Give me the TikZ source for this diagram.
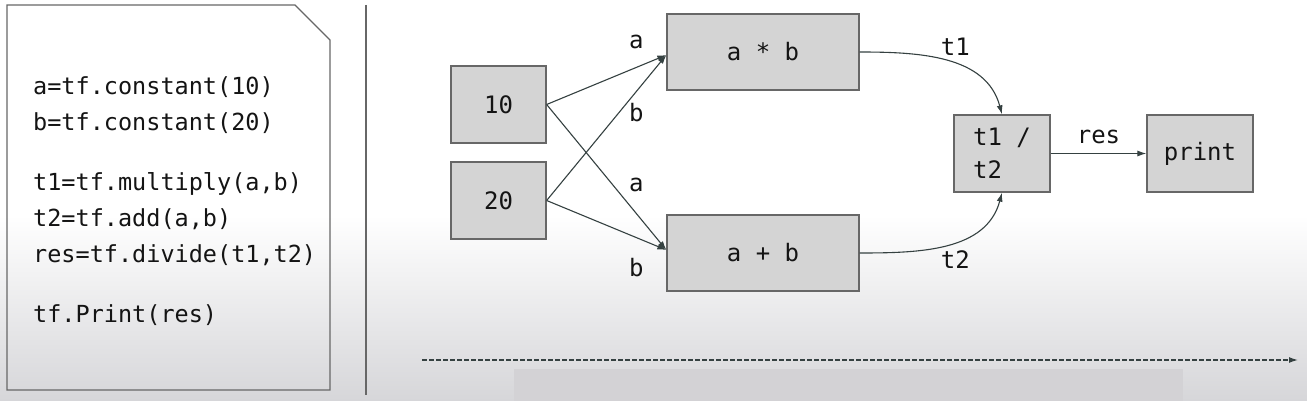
\documentclass[tikz,border=0pt]{standalone}
\usepackage{fontspec}
\setmonofont{DejaVu Sans Mono}
\usetikzlibrary{arrows.meta}
\definecolor{boxfill}{HTML}{D4D4D4}
\definecolor{boxline}{HTML}{676767}
\definecolor{wirecol}{HTML}{354141}
\definecolor{ink}{HTML}{141414}
\definecolor{bgbot}{HTML}{D6D6D9}
\definecolor{bar}{HTML}{D3D2D5}

\begin{document}
\begin{tikzpicture}[x=1pt, y=-1pt, >={Latex[length=9pt,width=6pt]},
  op/.style={draw=boxline, fill=boxfill, line width=1.3pt, inner sep=0pt, text=ink,
    font=\fontsize{24}{33}\selectfont\ttfamily},
  lbl/.style={inner sep=0pt, text=ink, font=\fontsize{24}{30}\selectfont\ttfamily},
  wire/.style={->, draw=wirecol, line width=1.1pt}]
\useasboundingbox (0,0) rectangle (1307,401);
\fill[white] (0,0) rectangle (1307,401);
\shade[top color=white, bottom color=bgbot] (0,215) rectangle (1307,401);
\fill[bar] (514,369) rectangle (1183,401);

% code listing
\draw[boxline, line width=1.3pt] (7,5) -- (295,5) -- (330,40) -- (330,390) -- (7,390) -- cycle;
\node[lbl, anchor=north west, align=left, font=\fontsize{23.5}{36}\selectfont\ttfamily] (code) at (33,76)
  {a=tf.constant(10)\\b=tf.constant(20)\\[24pt]t1=tf.multiply(a,b)\\t2=tf.add(a,b)\\res=tf.divide(t1,t2)\\[24pt]tf.Print(res)};
\draw[boxline, line width=1.3pt] (366,5) -- (366,395);

% graph
\node[op, minimum width=95pt, minimum height=77pt] (c10) at (498.5,104.5) {10};
\node[op, minimum width=95pt, minimum height=77pt] (c20) at (498.5,200.5) {20};
\node[op, minimum width=192pt, minimum height=76pt] (mul) at (763,52) {a * b};
\node[op, minimum width=192pt, minimum height=76pt] (add) at (763,253) {a + b};
\node[op, minimum width=96pt, minimum height=77pt, align=left] (div) at (1002,153.5) {t1 /\\t2};
\node[op, minimum width=106pt, minimum height=77pt] (prt) at (1200,153.5) {print};

\draw[wire] (c10.east) -- node[lbl, pos=.75, yshift=25pt] (la1) {a} ([yshift=-3pt]mul.west);
\draw[wire] (c20.east) -- node[lbl, pos=.75, yshift=-21pt] (lb1) {b} ([yshift=-3pt]mul.west);
\draw[wire] (c10.east) -- node[lbl, pos=.75, yshift=29pt] (la2) {a} ([yshift=3pt]add.west);
\draw[wire] (c20.east) -- node[lbl, pos=.75, yshift=-30pt] (lb2) {b} ([yshift=3pt]add.west);
\draw[wire] (mul.east) to[out=0, in=105] node[lbl, pos=.55, yshift=17pt] (lt1) {t1} (div.north);
\draw[wire] (add.east) to[out=0, in=-105] node[lbl, pos=.55, yshift=-17pt] (lt2) {t2} (div.south);
\draw[wire] (div.east) -- node[lbl, midway, yshift=17pt] (lres) {res} (prt.west);

% time axis
\coordinate (tstart) at (422,360);
\coordinate (tend) at (1298,360);
\draw[wire, line width=1.3pt, dash pattern=on 4.5pt off 2.5pt] (tstart) -- (tend);
\end{tikzpicture}
\end{document}
